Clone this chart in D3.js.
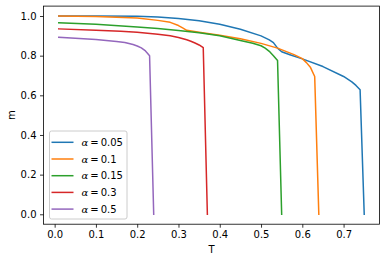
<!DOCTYPE html>
<html><head><meta charset="utf-8">
<script src="https://cdn.jsdelivr.net/npm/d3@7/dist/d3.min.js"></script>
<style>
html,body{margin:0;padding:0;background:#fff;}
svg{display:block;font-family:"DejaVu Sans",sans-serif;}
</style></head>
<body>
<svg id="chart" width="386" height="262"></svg>
<script>
const labels = ["0.05", "0.1", "0.15", "0.3", "0.5"];
const colors = ["#1f77b4", "#ff7f0e", "#2ca02c", "#d62728", "#9467bd"];

const T_a005 = [0.01, 0.1, 0.2, 0.25, 0.3, 0.35, 0.4, 0.45, 0.5, 0.52, 0.53, 0.54, 0.55, 0.57, 0.6, 0.65, 0.7, 0.72, 0.73, 0.74, 0.75];
const m_a005 = [1.0, 1.0, 0.999, 0.995, 0.987, 0.976, 0.958, 0.933, 0.90, 0.88, 0.866, 0.838, 0.82, 0.805, 0.784, 0.745, 0.695, 0.668, 0.65, 0.628, 0.0];

const T_a01 = [0.01, 0.1, 0.2, 0.25, 0.28, 0.3, 0.31, 0.32, 0.35, 0.4, 0.45, 0.5, 0.54, 0.58, 0.6, 0.61, 0.62, 0.63, 0.64];
const m_a01 = [1.0, 0.998, 0.99, 0.978, 0.968, 0.952, 0.94, 0.928, 0.918, 0.903, 0.885, 0.862, 0.838, 0.805, 0.785, 0.765, 0.74, 0.695, 0.0];

const T_a015 = [0.01, 0.1, 0.2, 0.25, 0.3, 0.35, 0.4, 0.45, 0.48, 0.5, 0.51, 0.52, 0.53, 0.54, 0.55];
const m_a015 = [0.966, 0.958, 0.945, 0.937, 0.927, 0.915, 0.9, 0.877, 0.863, 0.85, 0.838, 0.822, 0.80, 0.776, 0.0];

const T_a03 = [0.01, 0.1, 0.16, 0.2, 0.25, 0.28, 0.3, 0.32, 0.33, 0.34, 0.35, 0.36, 0.37];
const m_a03 = [0.935, 0.928, 0.923, 0.918, 0.908, 0.9, 0.892, 0.88, 0.873, 0.864, 0.854, 0.84, 0.0];

const T_a05 = [0.01, 0.05, 0.1, 0.15, 0.17, 0.19, 0.2, 0.21, 0.22, 0.23, 0.24];
const m_a05 = [0.893, 0.888, 0.882, 0.872, 0.866, 0.856, 0.849, 0.839, 0.824, 0.80, 0.0];

const xTicks = [0.0, 0.1, 0.2, 0.3, 0.4, 0.5, 0.6, 0.7];
const yTicks = [0.0, 0.2, 0.4, 0.6, 0.8, 1.0];

const seriesT = [T_a005, T_a01, T_a015, T_a03, T_a05];
const seriesM = [m_a005, m_a01, m_a015, m_a03, m_a05];
const series = labels.map((l, i) => ({label: l, color: colors[i],
  pts: seriesT[i].map((t, j) => [t, seriesM[i][j]])}));

const svg = d3.select("#chart");
const L = 43.5, R = 379.5, Tp = 6.1, B = 224.2;
const x = d3.scaleLinear().domain([-0.027, 0.787]).range([L, R]);
const y = d3.scaleLinear().domain([-0.05, 1.05]).range([B, Tp]);

const line = d3.line().x(d => x(d[0])).y(d => y(d[1]));
const g = svg.append("g");
series.forEach(s => {
  g.append("path").attr("d", line(s.pts)).attr("fill", "none")
    .attr("stroke", s.color).attr("stroke-width", 1.5)
    .attr("stroke-linejoin", "round").attr("stroke-linecap", "square");
});

// frame
svg.append("rect").attr("x", L).attr("y", Tp).attr("width", R - L).attr("height", B - Tp)
  .attr("fill", "none").attr("stroke", "#000").attr("stroke-width", 0.8);

const xa = svg.append("g").attr("transform", `translate(0,${B})`)
  .call(d3.axisBottom(x).tickValues(xTicks).tickFormat(d3.format(".1f")).tickSize(3.5).tickPadding(3.5));
const ya = svg.append("g").attr("transform", `translate(${L},0)`)
  .call(d3.axisLeft(y).tickValues(yTicks).tickFormat(d3.format(".1f")).tickSize(3.5).tickPadding(3.5));
[xa, ya].forEach(a => {
  a.select(".domain").remove();
  a.selectAll("line").attr("stroke", "#000").attr("stroke-width", 0.8);
  a.selectAll("text").attr("font-size", 10).attr("fill", "#000").attr("font-family", "DejaVu Sans");
});

svg.append("text").attr("x", x(0.38)).attr("y", 253).attr("text-anchor", "middle")
  .attr("font-size", 10).text("T");
svg.append("text").attr("transform", "translate(15,115) rotate(-90)").attr("text-anchor", "middle")
  .attr("font-size", 10).text("m");

// legend
const lg = svg.append("g");
lg.append("rect").attr("x", 49.5).attr("y", 131).attr("width", 77.5).attr("height", 88)
  .attr("rx", 2).attr("fill", "#fff").attr("fill-opacity", 0.8)
  .attr("stroke", "#cccccc").attr("stroke-width", 1);
series.forEach((s, i) => {
  const yy = 142.3 + i * 16.7;
  lg.append("line").attr("x1", 51.5).attr("x2", 73.5).attr("y1", yy).attr("y2", yy)
    .attr("stroke", s.color).attr("stroke-width", 1.5);
  const t = lg.append("text").attr("x", 81.5).attr("y", yy + 3.6).attr("font-size", 10);
  t.append("tspan").attr("font-style", "italic").attr("font-family", "DejaVu Serif").text("α");
  t.append("tspan").text("\u2009=\u2009" + s.label);
});
</script>
</body></html>
